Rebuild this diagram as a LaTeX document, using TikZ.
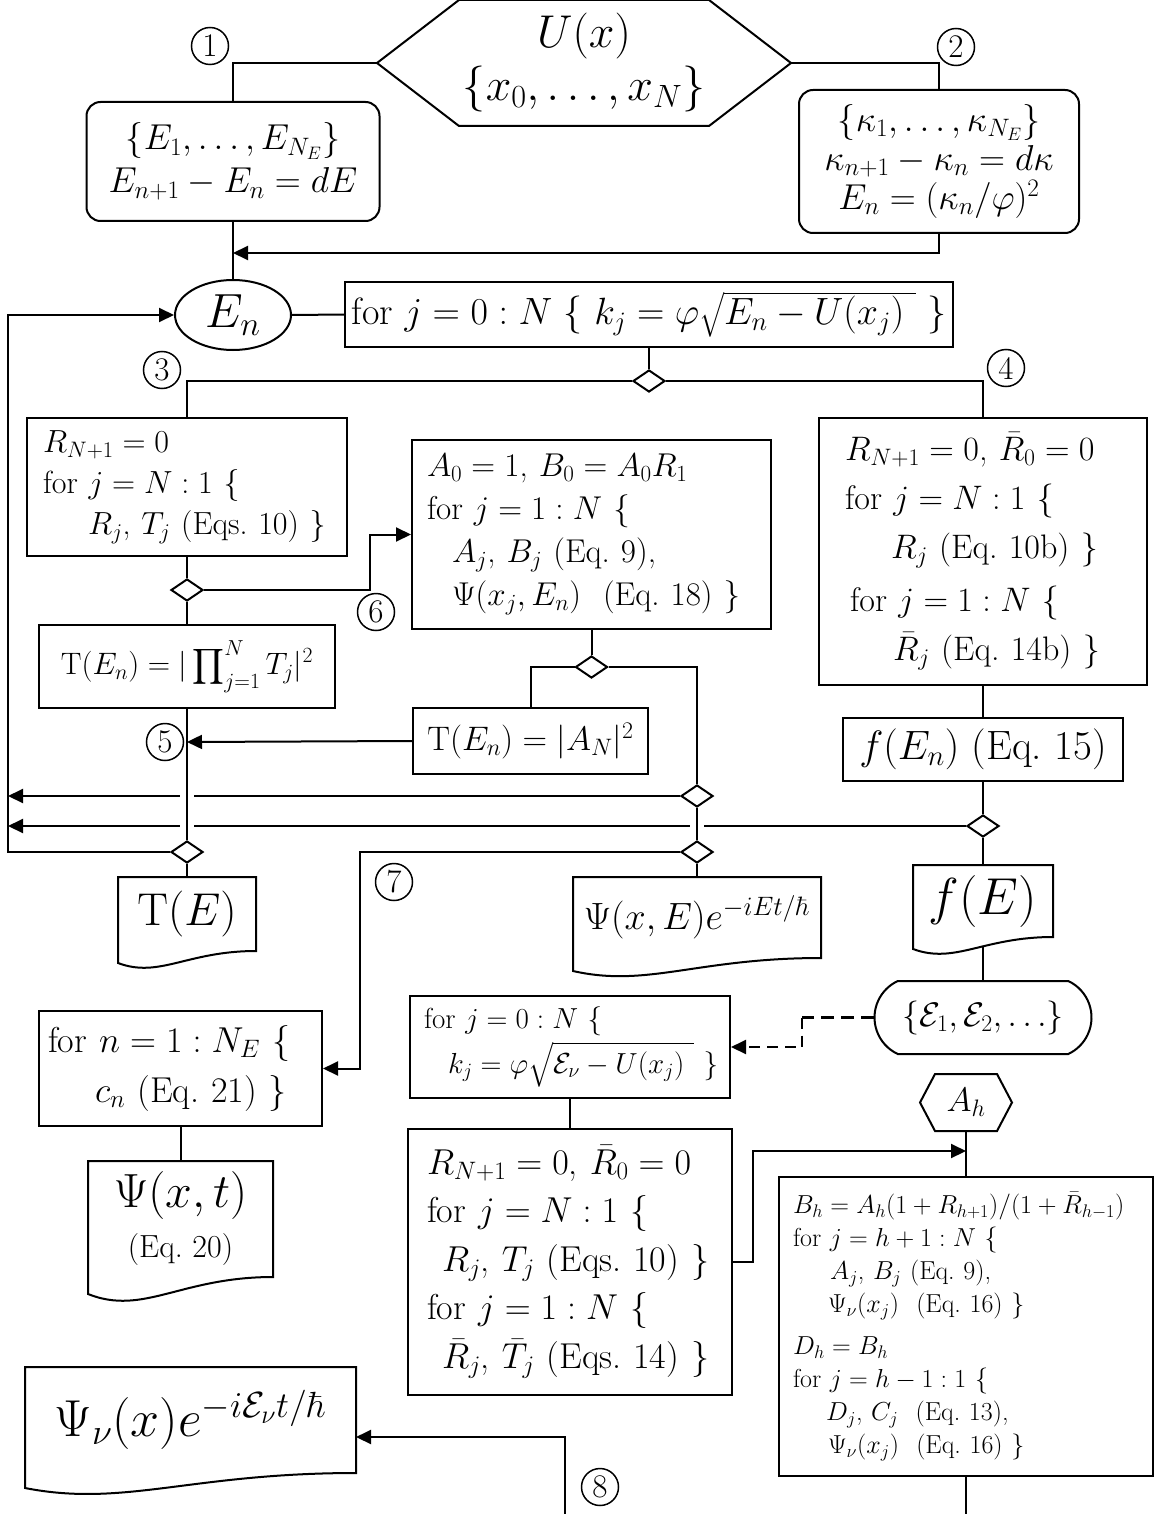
\RequirePackage{fix-cm}
\documentclass[tikz,border=0pt]{standalone}
\usepackage{exscale}
\usetikzlibrary{shapes.geometric, shapes.misc, arrows.meta, calc}
\newcommand{\fsz}[2]{\fontsize{#1}{#2}\selectfont}
% outline of a hexagon round a node, #2 = horizontal size of the slant
\newcommand{\hexout}[2]{\draw (#1.west) -- ($(#1.north west)+(#2,0)$) -- ($(#1.north east)+(-#2,0)$)
  -- (#1.east) -- ($(#1.south east)+(-#2,0)$) -- ($(#1.south west)+(#2,0)$) -- cycle;}
% outline of a document round a node, #2 = drop of the wavy bottom
\newcommand{\docout}[2]{\draw ($(#1.south west)+(0,#2)$) -- (#1.north west) -- (#1.north east) -- (#1.south east)
  .. controls ($(#1.south east)!0.5!(#1.south west)$) and ($(#1.south west)!0.3!(#1.south east)+(0,2.3*#2)$)
  .. ($(#1.south west)+(0,#2)$) -- cycle;}
\begin{document}
\begin{tikzpicture}[x=1pt, y=-1pt, line width=2pt,
  >={Triangle[length=15pt,width=14pt]},
  blk/.style={draw, rectangle, align=left, inner ysep=0pt},
  ctr/.style={draw, rectangle, align=center, inner sep=0pt},
  rblk/.style={draw, rectangle, rounded corners=14pt, align=center, inner sep=0pt},
  docu/.style={align=center, inner sep=0pt},
  hexa/.style={align=center, inner sep=0pt},
  mrg/.style={draw, diamond, fill=white, minimum width=32pt, minimum height=22pt, inner sep=0pt},
  cnum/.style={draw, circle, minimum size=37pt, inner sep=0pt, line width=1.5pt, font=\fsz{33}{34}},
  bridge/.style={preaction={draw, white, line width=14pt}}]
\useasboundingbox (0,0) rectangle (1156,1514);

% inputs and energy grid
\node[hexa, minimum width=412pt, minimum height=124pt, font=\fsz{46}{53}] (inp) at (584,63) {$U(x)$\\$\{x_0,\ldots,x_N\}$};
\hexout{inp}{82}
\node[rblk, minimum width=293pt, minimum height=119pt, font=\fsz{36}{43}] (egrid) at (233,161.5) {$\{E_1,\ldots,E_{N_E}\}$\\$E_{n+1}-E_n=dE$};
\node[rblk, minimum width=280pt, minimum height=143pt, font=\fsz{36}{39}] (kgrid) at (939,161.5) {$\{\kappa_1,\ldots,\kappa_{N_E}\}$\\$\kappa_{n+1}-\kappa_n=d\kappa$\\$E_n=(\kappa_n/\varphi)^2$};
\node[draw, ellipse, minimum width=116pt, minimum height=70pt, inner sep=0pt, font=\fsz{48}{50}] (en) at (233,315) {$E_n$};
\node[ctr, minimum width=608pt, minimum height=65pt, font=\fsz{38}{40}] (kj) at (649,314.5) {for $j=0:N$ \{ $k_j=\varphi\sqrt{E_n-U(x_j)\ }$ \}};
\node[mrg] (s1) at (649,381) {};

% transmission and scattering states
\node[blk, text width=288pt, inner xsep=16pt, minimum height=138pt, font=\fsz{32}{41}] (rt) at (187,487)
  {$R_{N+1}=0$\\for $j=N:1$ \{\\\hspace*{45pt}$R_j$, $T_j$ (Eqs.~10) \}};
\node[mrg] (s3) at (187,590) {};
\node[ctr, minimum width=296pt, minimum height=83pt, font=\fsz{31}{34}] (tprod) at (187,666.5) {$\mathrm{T}(E_n)=|\displaystyle\prod\nolimits_{j=1}^{N}T_j|^2$};
\node[blk, text width=329pt, inner xsep=15pt, minimum height=189pt, font=\fsz{33}{43}] (ab) at (591.5,534.5)
  {$A_0=1$, $B_0=A_0R_1$\\for $j=1:N$ \{\\\hspace*{25pt}$A_j$, $B_j$ (Eq.~9),\\\hspace*{25pt}$\Psi(x_j,E_n)$~~(Eq.~18) \}};
\node[mrg] (s6) at (591.5,667) {};
\node[ctr, minimum width=235pt, minimum height=66pt, font=\fsz{34}{36}] (tan) at (530.5,741) {$\mathrm{T}(E_n)=|A_N|^2$};
\node[blk, text width=276pt, inner xsep=26pt, minimum height=267pt, font=\fsz{34}{49}] (rb) at (983,551.5)
  {$R_{N+1}=0$, $\bar R_0=0$\\for $j=N:1$ \{\\\hspace*{46pt}$R_j$ (Eq.~10b) \}\\[4pt]\hspace*{5pt}for $j=1:N$ \{\\\hspace*{48pt}$\bar R_j$ (Eq.~14b) \}};
\node[ctr, minimum width=280pt, minimum height=63pt, font=\fsz{41}{44}] (fen) at (983,749.5) {$f(E_n)$ (Eq.~15)};
\node[mrg] (sf) at (983,826) {};
\node[mrg] (s7a) at (697,796) {};
\node[mrg] (s7b) at (697,852) {};
\node[mrg] (sT) at (187,852) {};

% outputs
\node[docu, minimum width=136pt, minimum height=72pt, font=\fsz{46}{48}] (te) at (187,914) {$\mathrm{T}(E)$};
\docout{te}{12}
\node[docu, minimum width=246pt, minimum height=79pt, font=\fsz{38}{40}] (pxe) at (697,917.5) {$\Psi(x,E)e^{-iEt/\hbar}$};
\docout{pxe}{13}
\node[docu, minimum width=138pt, minimum height=70pt, font=\fsz{52}{54}] (fe) at (983,901) {$f(E)$};
\docout{fe}{12}
\node[draw, rounded rectangle, rounded rectangle arc length=130, minimum width=217pt, minimum height=73pt, inner sep=0pt, font=\fsz{34}{36}] (eps) at (983,1017.5) {$\{\mathcal{E}_1,\mathcal{E}_2,\ldots\}$};

% bound states
\node[blk, text width=304pt, inner xsep=8pt, minimum height=102pt, font=\fsz{29}{45}] (kjnu) at (570,1047)
  {\hspace*{6pt}for $j=0:N$ \{\\\hspace*{30pt}$k_j=\varphi\sqrt{\mathcal{E}_\nu-U(x_j)\ }$ \}};
\node[blk, text width=286pt, inner xsep=19pt, minimum height=266pt, font=\fsz{36}{48.5}] (rtnu) at (570,1262)
  {$R_{N+1}=0$, $\bar R_0=0$\\for $j=N:1$ \{\\\hspace*{15pt}$R_j$, $T_j$ (Eqs.~10) \}\\for $j=1:N$ \{\\\hspace*{15pt}$\bar R_j$, $\bar T_j$ (Eqs.~14) \}};
\node[hexa, minimum width=90pt, minimum height=55pt, font=\fsz{34}{36}] (ah) at (966,1102.5) {$A_h$};
\hexout{ah}{15}
\node[blk, text width=346pt, inner xsep=14pt, minimum height=299pt, font=\fsz{26}{33}] (bh) at (966,1326.5)
  {$B_h=A_h(1+R_{h+1})/(1+\bar R_{h-1})$\\for $j=h+1:N$ \{\\\hspace*{37pt}$A_j$, $B_j$ (Eq.~9),\\\hspace*{35pt}$\Psi_\nu(x_j)$~~(Eq.~16) \}\\[9pt]
   $D_h=B_h$\\for $j=h-1:1$ \{\\\hspace*{33pt}$D_j$, $C_j$~~(Eq.~13),\\\hspace*{35pt}$\Psi_\nu(x_j)$~~(Eq.~16) \}};
\node[blk, text width=265pt, inner xsep=9pt, minimum height=115pt, font=\fsz{36}{50}] (cn) at (180.5,1068.5)
  {for $n=1:N_E$ \{\\\hspace*{47pt}$c_n$ (Eq.~21) \}};
\node[docu, minimum width=183pt, minimum height=114pt, font=\fsz{48}{50}] (pxt) at (180.5,1219) {$\Psi(x,t)$\\{\fsz{32}{34}(Eq.~20)}};
\docout{pxt}{17}
\node[docu, minimum width=329pt, minimum height=104pt, font=\fsz{52}{54}] (pnu) at (190.5,1420) {$\Psi_\nu(x)e^{-i\mathcal{E}_\nu t/\hbar}$};
\docout{pnu}{15}

% bends and loose ends
\coordinate (m1) at (233,253);
\coordinate (m2) at (370,560);
\coordinate (l0) at (8,600);
\coordinate (l1) at (8,796);
\coordinate (l2) at (8,826);
\coordinate (m5) at (187,742);
\coordinate (m7) at (360,950);
\coordinate (m9) at (802,1017.5);
\coordinate (m10) at (753,1200);
\coordinate (ma) at (966,1151);
\coordinate (m8) at (565,1437);
\coordinate (bot1) at (966,1514);
\coordinate (bot2) at (565,1514);

\draw (inp.west) -| (egrid.north);
\draw (inp.east) -| (kgrid.north);
\draw (egrid.south) -- (en.north);
\draw[->] (kgrid.south) |- (m1);
\draw (en.east) -- (kj.west);
\draw (kj.south) -- (s1.north);
\draw (s1.west) -| (rt.north);
\draw (s1.east) -| (rb.north);
\draw (rt.south) -- (s3.north);
\draw (s3.south) -- (tprod.north);
\draw[->] (s3.east) -| (m2) |- (ab.west);
\draw (ab.south) -- (s6.north);
\draw (s6.west) -| (tan.north);
\draw (s6.east) -| (s7a.north);
\draw (s7b.south) -- (pxe.north);
\draw (rb.south) -- (fen.north);
\draw (fen.south) -- (sf.north);
\draw (sf.south) -- (fe.north);
\draw ($(fe.south)+(0,10)$) -- (eps.north);
\draw (sT.south) -- (te.north);
\draw[->] (sT.west) -| (l0) |- (en.west);
\draw[->] (s7a.west) -- (l1);
\draw[->] (sf.west) -- (l2);
\draw[bridge] (tprod.south) -- (sT.north);
\draw[bridge] (s7a.south) -- (s7b.north);
\draw[->] (tan.west) -- (m5);
\draw[->] (s7b.west) -| (m7) |- (cn.east);
\draw (cn.south) -- (pxt.north);
\draw[dash pattern=on 13pt off 7pt, line width=2.8pt] (eps.west) -- (m9);
\draw[dash pattern=on 11pt off 7pt, ->] (m9) |- (kjnu.east);
\draw (kjnu.south) -- (rtnu.north);
\draw[->] (rtnu.east) -| (m10) |- (ma);
\draw (ah.south) -- (bh.north);
\draw (bh.south) -- (bot1);
\draw[->] (bot2) -- (m8) -- (pnu.east |- m8);

\foreach \n/\px/\py in {1/210/46, 2/956/47, 3/162/370, 4/1006/368, 5/165/742, 6/376/612, 7/394/882, 8/600/1487}
  \node[cnum] (c\n) at (\px,\py) {\n};
\end{tikzpicture}
\end{document}
